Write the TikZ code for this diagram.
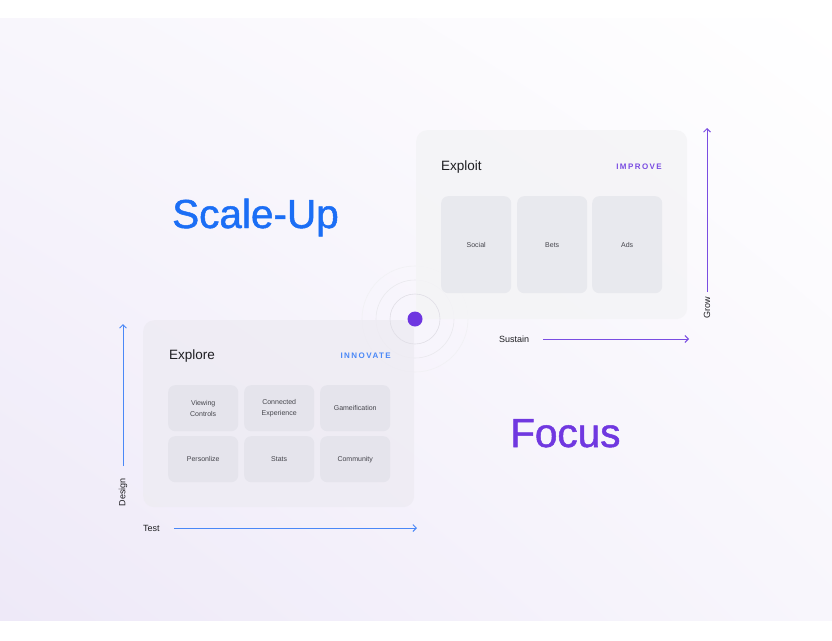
\documentclass[tikz,border=0pt]{standalone}
\usepackage{fontspec}
\setmainfont{Liberation Sans}
\newfontfamily\spacedfont[LetterSpace=18]{Liberation Sans}
\newfontfamily\bigfont[FakeBold=1.2]{Liberation Sans}
\usetikzlibrary{arrows.meta,shadings}
\definecolor{bgA}{HTML}{FFFFFF}
\definecolor{bgB}{HTML}{EEE9F8}
\definecolor{bgC}{HTML}{F8F6FC}
\definecolor{blueA}{HTML}{1B6EF5}
\definecolor{purpA}{HTML}{7038E0}
\definecolor{blueL}{HTML}{4A88F7}
\definecolor{purpL}{HTML}{7A4DE2}
\definecolor{panelA}{HTML}{F4F4F6}
\definecolor{panelB}{HTML}{EEECF3}
\definecolor{cardA}{HTML}{E8E9EE}
\definecolor{cardB}{HTML}{E5E4EC}
\definecolor{txtA}{HTML}{1E1E22}
\definecolor{txtB}{HTML}{45454C}
\definecolor{ringC}{HTML}{D8D6E0}
\definecolor{dotC}{HTML}{6E36E0}
\tikzset{
  panel/.style={rounded corners=11pt, inner sep=0pt, anchor=north west},
  card/.style={rounded corners=7pt, inner sep=0pt, anchor=north west, align=center, text=txtB, font=\fontsize{7}{11}\selectfont},
  title/.style={anchor=west, text=txtA, inner sep=0pt, font=\fontsize{13.5}{15}\selectfont},
  tag/.style={anchor=east, inner sep=0pt, font=\spacedfont\fontsize{8}{9}\selectfont\bfseries},
  axislbl/.style={text=txtA, inner sep=0pt, font=\fontsize{9}{10}\selectfont},
  axisline/.style={line width=0.9pt, -{Straight Barb[length=3.5pt,width=7pt]}},
  big/.style={inner sep=0pt, font=\bigfont\fontsize{40.5}{44}\selectfont}
}
\begin{document}
\begin{tikzpicture}[x=1pt,y=-1pt]
\useasboundingbox (0,0) rectangle (832,640);
\fill[white] (0,0) rectangle (832,640);
\shade[upper left=bgC, upper right=bgA, lower left=bgB, lower right=bgC] (0,18) rectangle (832,620);

% rings behind panels
\draw[ringC!35, line width=0.6pt] (415,319) circle (53);
\draw[ringC!55, line width=0.6pt] (415,319) circle (39);

% panels
\node[panel, fill=panelA, fill opacity=0.85, minimum width=271pt, minimum height=189pt] (exploit) at (416,130) {};
\node[panel, fill=panelB, fill opacity=0.85, minimum width=271pt, minimum height=187pt] (explore) at (143,320) {};

% inner ring and dot
\draw[ringC!80, line width=0.6pt] (415,319) circle (25);
\fill[dotC] (415,319) circle (7.5);

% exploit content
\node[title] (exploitT) at (441,167) {Exploit};
\node[tag, text=purpL] (improve) at (662,167) {IMPROVE};
\node[card, fill=cardA, minimum width=70pt, minimum height=97pt] (social) at (441,196) {Social};
\node[card, fill=cardA, minimum width=70pt, minimum height=97pt] (bets) at (517,196) {Bets};
\node[card, fill=cardA, minimum width=70pt, minimum height=97pt] (ads) at (592,196) {Ads};

% explore content
\node[title] (exploreT) at (169,356) {Explore};
\node[tag, text=blueL] (innovate) at (391,356) {INNOVATE};
\node[card, fill=cardB, minimum width=70pt, minimum height=46pt] (viewing) at (168,385) {Viewing\\Controls};
\node[card, fill=cardB, minimum width=70pt, minimum height=46pt] (connected) at (244,385) {Connected\\Experience};
\node[card, fill=cardB, minimum width=70pt, minimum height=46pt] (gamif) at (320,385) {Gameification};
\node[card, fill=cardB, minimum width=70pt, minimum height=46pt] (person) at (168,436) {Personlize};
\node[card, fill=cardB, minimum width=70pt, minimum height=46pt] (stats) at (244,436) {Stats};
\node[card, fill=cardB, minimum width=70pt, minimum height=46pt] (community) at (320,436) {Community};

% big labels
\node[big, text=blueA, anchor=base west] (scaleup) at (172,228) {Scale-Up};
\node[big, text=purpA, anchor=base west] (focus) at (510,447) {Focus};

% axes
\coordinate (growS) at (707,292);
\coordinate (growE) at (707,128);
\draw[axisline, purpL] (growS) -- (growE);
\node[axislbl, rotate=90] (grow) at (707,308) {Grow};
\node[axislbl, anchor=west] (sustain) at (499,339) {Sustain};
\coordinate (sustE) at (689,339);
\draw[axisline, purpL] ([xshift=14pt]sustain.east) -- (sustE);

\coordinate (desS) at (123,466);
\coordinate (desE) at (123,324);
\draw[axisline, blueL] (desS) -- (desE);
\node[axislbl, rotate=90] (design) at (123,492) {Design};
\node[axislbl, anchor=west] (test) at (143,528) {Test};
\coordinate (testE) at (417,528);
\draw[axisline, blueL] ([xshift=14pt]test.east) -- (testE);
\end{tikzpicture}
\end{document}
